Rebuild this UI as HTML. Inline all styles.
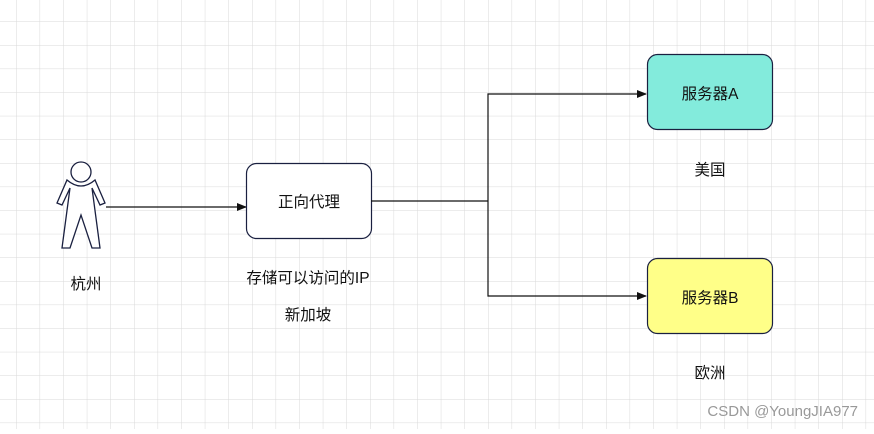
<!DOCTYPE html>
<html><head><meta charset="utf-8"><style>
body{margin:0;background:#fff}
text{font-family:"Liberation Sans","Noto Sans CJK SC",sans-serif;font-size:15.5px;fill:#111}
</style></head><body>
<svg width="874" height="429" xmlns="http://www.w3.org/2000/svg">
<defs>
<pattern id="g" x="16" y="21.4" width="23.6" height="23.6" patternUnits="userSpaceOnUse">
<path d="M0 0V23.6M0 0H23.6" stroke="#d9d9d9" stroke-width="1" fill="none"/>
</pattern>
<marker id="a" markerWidth="10" markerHeight="8" refX="9" refY="4" orient="auto" markerUnits="userSpaceOnUse">
<path d="M0 0L10 4L0 8z" fill="#111"/></marker>
</defs>
<rect width="874" height="429" fill="url(#g)"/>
<g fill="#fff" stroke="#1a2040" stroke-width="1.3">
<circle cx="81" cy="172" r="10"/>
<path d="M67 180 Q81 192 95 180 L105 203 L100 205 L92 188 L100 248 L92 248 L81 215 L70 248 L62 248 L70 188 L62 205 L57 203 Z"/>
</g>
<line x1="106" y1="207" x2="246" y2="207" stroke="#111" stroke-width="1.2" marker-end="url(#a)"/>
<rect x="246.5" y="163.5" width="125" height="75" rx="10" fill="#fff" stroke="#1a2040" stroke-width="1.2"/>
<text x="309" y="207" text-anchor="middle">正向代理</text>
<path d="M371 201H488V94H646M488 201V296H646" fill="none" stroke="#111" stroke-width="1.2"/>
<path d="M637 90L647 94L637 98z M637 292L647 296L637 300z" fill="#111"/>
<rect x="647.5" y="54.5" width="125" height="75" rx="10" fill="#83ebdc" stroke="#1a2040" stroke-width="1.2"/>
<text x="710" y="99" text-anchor="middle">服务器A</text>
<rect x="647.5" y="258.5" width="125" height="75" rx="10" fill="#ffff88" stroke="#1a2040" stroke-width="1.2"/>
<text x="710" y="303" text-anchor="middle">服务器B</text>
<text x="86" y="289" text-anchor="middle">杭州</text>
<text x="308" y="283" text-anchor="middle">存储可以访问的IP</text>
<text x="308" y="320" text-anchor="middle">新加坡</text>
<text x="710" y="175" text-anchor="middle">美国</text>
<text x="710" y="378" text-anchor="middle">欧洲</text>
<text x="858" y="416" text-anchor="end" style="font-size:15px;fill:#999">CSDN @YoungJIA977</text>
</svg>
</body></html>
